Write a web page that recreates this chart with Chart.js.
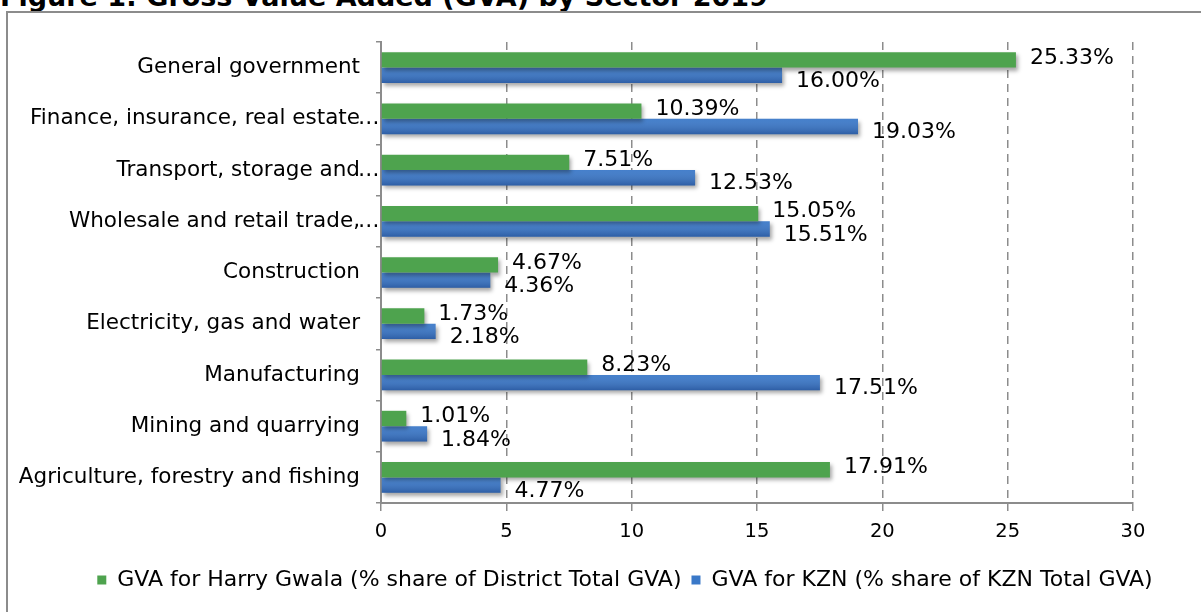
<!DOCTYPE html>
<html lang="en">
<head>
    <meta charset="UTF-8">
    <title>Gross Value Added (GVA) by Sector 2019</title>
    <script src="https://cdn.jsdelivr.net/npm/chart.js"></script>
    <style>
        body { margin: 0; background: #fff; overflow: hidden; }
        #wrap { position: relative; width: 1201px; height: 612px; }
        #title {
            position: absolute; left: 0; top: -19px;
            font: bold 27px "DejaVu Sans", sans-serif; color: #000;
            white-space: nowrap;
        }
        #frame {
            position: absolute; left: 6px; top: 11px; width: 1205px; height: 620px;
            border: 2px solid #8c8c8c; box-sizing: border-box;
        }
        #chart { position: absolute; left: 0; top: 0; }
    </style>
</head>
<body>
    <div id="wrap">
        <div id="title">Figure 1: Gross Value Added (GVA) by Sector 2019</div>
        <div id="frame"></div>
        <canvas id="chart" width="1201" height="612"></canvas>
    </div>

    <script>
        const sectors = [
            'General government',
            'Finance, insurance, real estate…',
            'Transport, storage and…',
            'Wholesale and retail trade,…',
            'Construction',
            'Electricity, gas and water',
            'Manufacturing',
            'Mining and quarrying',
            'Agriculture, forestry and fishing'
        ];
        const harryGwala = [25.33, 10.39, 7.51, 15.05, 4.67, 1.73, 8.23, 1.01, 17.91];
        const kzn = [16.00, 19.03, 12.53, 15.51, 4.36, 2.18, 17.51, 1.84, 4.77];
        const seriesNames = [
            'GVA for Harry Gwala (% share of District Total GVA)',
            'GVA for KZN (% share of KZN Total GVA)'
        ];
        const xTicks = [0, 5, 10, 15, 20, 25, 30];

        const fontFamily = '"DejaVu Sans", sans-serif';
        const ELL = '…';

        const barDecor = {
            id: 'barDecor',
            afterLayout(chart) {
                // legend sits a bit right of centre, like the original
                chart.legend.left = 49;
                chart.legend.right = 1201;
            },
            beforeDatasetsDraw(chart) {
                const ctx = chart.ctx;
                ctx.save();
                ctx.shadowColor = 'rgba(0,0,0,0.35)';
                ctx.shadowBlur = 4;
                ctx.shadowOffsetX = 2;
                ctx.shadowOffsetY = 3;
            },
            afterDatasetsDraw(chart) {
                const ctx = chart.ctx;
                ctx.restore();
                ctx.save();

                // darker lower edge on the blue bars
                chart.getDatasetMeta(1).data.forEach(bar => {
                    const p = bar.getProps(['x', 'y', 'base', 'height'], true);
                    const top = p.y - p.height / 2;
                    const g = ctx.createLinearGradient(0, top, 0, top + p.height);
                    g.addColorStop(0, 'rgba(255,255,255,0.06)');
                    g.addColorStop(1, 'rgba(0,0,40,0.22)');
                    ctx.fillStyle = g;
                    ctx.fillRect(p.base, top, p.x - p.base, p.height);
                });

                // value labels
                ctx.font = '22px ' + fontFamily;
                ctx.fillStyle = '#000';
                ctx.textAlign = 'left';
                ctx.textBaseline = 'middle';
                chart.data.datasets.forEach((ds, di) => {
                    const meta = chart.getDatasetMeta(di);
                    meta.data.forEach((bar, i) => {
                        const dy = di === 0 ? -2 : 6;
                        ctx.fillText(ds.data[i].toFixed(2) + '%', bar.x + 14, bar.y + dy);
                    });
                });

                // truncated category names: the ellipsis hangs past the label edge
                const y = chart.scales.y;
                ctx.font = '21.5px ' + fontFamily;
                chart.data.labels.forEach((lab, i) => {
                    if (lab.endsWith(ELL)) {
                        ctx.fillText(ELL, y.right - 5 - 16 - 2, y.getPixelForTick(i));
                    }
                });
                ctx.restore();
            }
        };

        const ctx = document.getElementById('chart').getContext('2d');

        const chart = new Chart(ctx, {
            type: 'bar',
            data: {
                labels: sectors,
                datasets: [
                    {
                        label: seriesNames[0],
                        data: harryGwala,
                        backgroundColor: '#4ea34e',
                        categoryPercentage: 0.6,
                        barPercentage: 1.0
                    },
                    {
                        label: seriesNames[1],
                        data: kzn,
                        backgroundColor: '#3a78c8',
                        categoryPercentage: 0.6,
                        barPercentage: 1.0
                    }
                ]
            },
            options: {
                indexAxis: 'y',
                responsive: false,
                animation: false,
                devicePixelRatio: 1,
                layout: { padding: { top: 42, right: 68, bottom: 11, left: 0 } },
                plugins: {
                    title: { display: false },
                    tooltip: { enabled: false },
                    legend: {
                        position: 'bottom',
                        labels: {
                            boxWidth: 9,
                            boxHeight: 9,
                            padding: 10,
                            color: '#000',
                            font: { family: fontFamily, size: 22 }
                        }
                    }
                },
                scales: {
                    x: {
                        min: 0,
                        max: 30,
                        afterBuildTicks(scale) {
                            scale.ticks = xTicks.map(v => ({ value: v }));
                        },
                        afterFit(scale) { scale.height = 56; },
                        grid: {
                            color: '#8c8c8c',
                            lineWidth: 1.5,
                            tickLength: 8,
                            tickBorderDash: [],
                            tickColor: '#8c8c8c'
                        },
                        border: { display: true, color: '#8c8c8c', width: 2, dash: [8, 6] },
                        ticks: {
                            color: '#000',
                            padding: 9,
                            font: { family: fontFamily, size: 19.5 }
                        }
                    },
                    y: {
                        afterFit(scale) { scale.width = 381; },
                        grid: {
                            offset: true,
                            drawOnChartArea: false,
                            tickLength: 5,
                            color: '#8c8c8c',
                            lineWidth: 1.5
                        },
                        border: { display: true, color: '#8c8c8c', width: 2 },
                        ticks: {
                            color: '#000',
                            padding: 16,
                            autoSkip: false,
                            font: { family: fontFamily, size: 21.5 },
                            callback(value) {
                                const lab = this.getLabelForValue(value);
                                return lab.endsWith(ELL) ? lab.slice(0, -1) : lab;
                            }
                        }
                    }
                }
            },
            plugins: [barDecor]
        });
    </script>
</body>
</html>
